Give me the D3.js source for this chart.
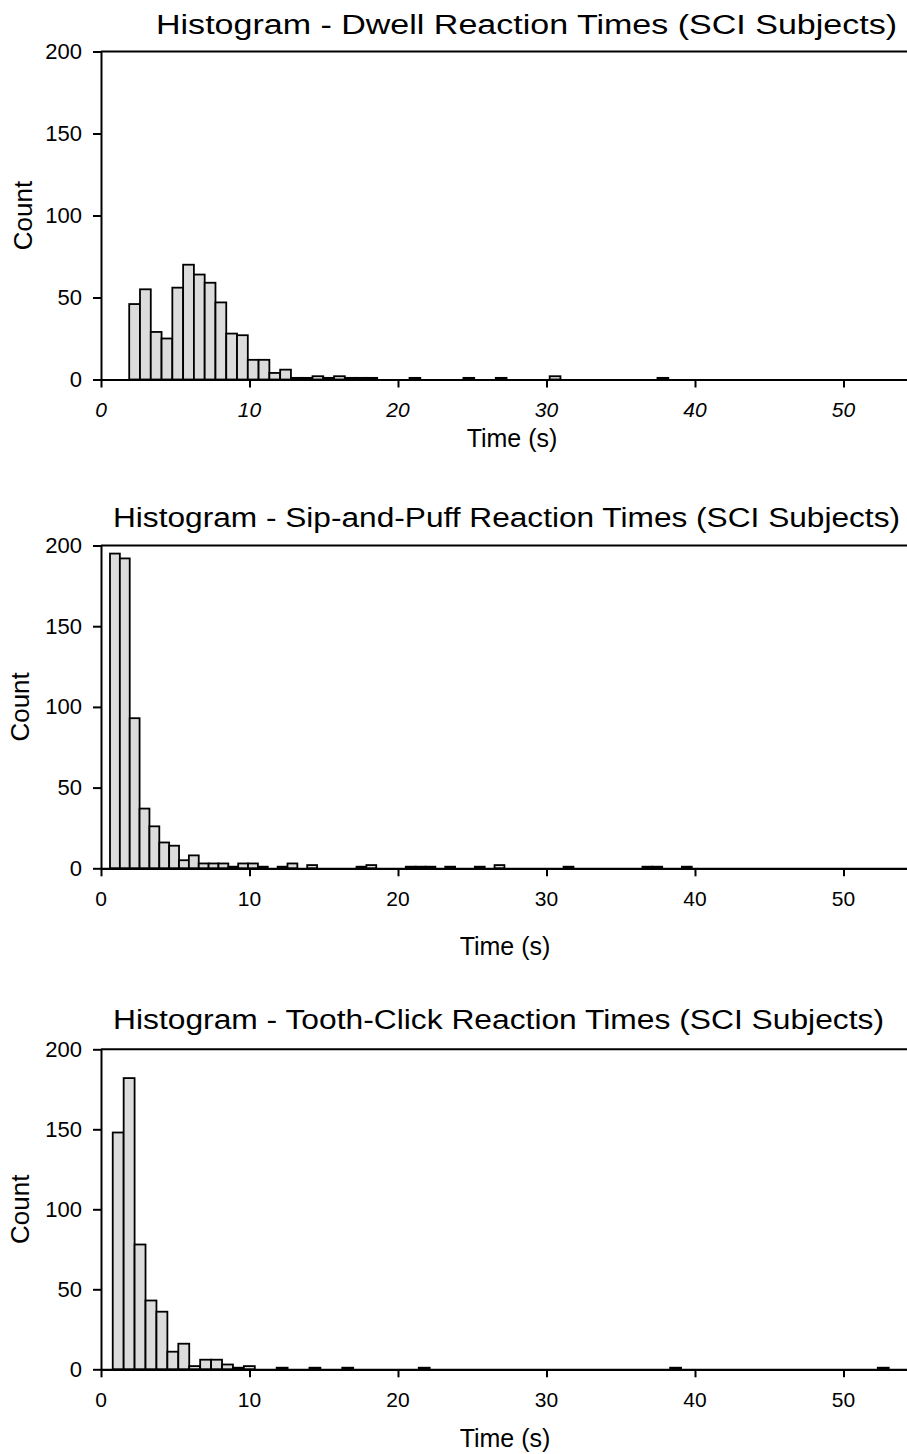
<!DOCTYPE html>
<html>
<head>
<meta charset="utf-8">
<script src="https://cdn.jsdelivr.net/npm/d3@7"></script>
<style>
  body { margin: 0; background: #fff; }
  svg { display: block; }
  text { font-family: "Liberation Sans", Arial, Helvetica, sans-serif; fill: #000; }
</style>
</head>
<body>
<div id="chart"></div>
<script>
// histogram counts per bin (empty bins kept as 0)
const dwellCounts = [46, 55, 29, 25, 56, 70, 64, 59, 47, 28, 27, 12, 12, 4, 6, 1, 1, 2, 1, 2, 1, 1, 1,
  0, 0, 0, 1, 0, 0, 0, 0, 1, 0, 0, 1, 0, 0, 0, 0, 2, 0, 0, 0, 0, 0, 0, 0, 0, 0, 1];
const sipPuffCounts = [195, 192, 93, 37, 26, 16, 14, 5, 8, 3, 3, 3, 1, 3, 3, 1, 0, 1, 3, 0, 2,
  0, 0, 0, 0, 1, 2, 0, 0, 0, 1, 1, 1, 0, 1, 0, 0, 1, 0, 2, 0, 0, 0, 0, 0, 0, 1,
  0, 0, 0, 0, 0, 0, 0, 1, 1, 0, 0, 1];
const toothClickCounts = [148, 182, 78, 43, 36, 11, 16, 2, 6, 6, 3, 1, 2, 0, 0, 1, 0, 0, 1, 0, 0, 1,
  0, 0, 0, 0, 0, 0, 1,
  0, 0, 0, 0, 0, 0, 0, 0, 0, 0, 0, 0, 0, 0, 0, 0, 0, 0, 0, 0, 0, 0, 1,
  0, 0, 0, 0, 0, 0, 0, 0, 0, 0, 0, 0, 0, 0, 0, 0, 0, 0, 1];

// first bin edge and bin width (seconds)
const dwellBins = { start: 1.9, width: 0.726 };
const sipPuffBins = { start: 0.606, width: 0.664 };
const toothClickBins = { start: 0.79, width: 0.736 };

const titles = [
  "Histogram - Dwell Reaction Times (SCI Subjects)",
  "Histogram - Sip-and-Puff Reaction Times (SCI Subjects)",
  "Histogram - Tooth-Click Reaction Times (SCI Subjects)"
];
const xTicks = [0, 10, 20, 30, 40, 50];
const yTicks = [0, 50, 100, 150, 200];
const xLabel = "Time (s)";
const yLabel = "Count";

const W = 907, H = 1454;

const panels = [
  { title: titles[0], counts: dwellCounts, bins: dwellBins, top: 51.5, bottom: 379.5,
    titleX: 156, titleW: 741, titleY: 34, italic: true, tickLabelY: 417, xLabelY: 447, xLabelX: 512, countX: 32 },
  { title: titles[1], counts: sipPuffCounts, bins: sipPuffBins, top: 545.5, bottom: 868.3,
    titleX: 113, titleW: 787, titleY: 527, italic: false, tickLabelY: 906, xLabelY: 955, xLabelX: 505, countX: 29 },
  { title: titles[2], counts: toothClickCounts, bins: toothClickBins, top: 1049.3, bottom: 1369.3,
    titleX: 113, titleW: 771, titleY: 1029, italic: false, tickLabelY: 1407, xLabelY: 1447, xLabelX: 505, countX: 29 }
];

const svg = d3.select("#chart").append("svg")
  .attr("width", W)
  .attr("height", H);

svg.append("rect").attr("width", W).attr("height", H).attr("fill", "#fff");

const left = 101;
const x = d3.scaleLinear().domain([0, 55]).range([left, left + 14.85 * 55]);

panels.forEach((p) => {
  const y = d3.scaleLinear().domain([0, 200]).range([p.bottom, p.top]);
  const g = svg.append("g");

  const bins = p.counts
    .map((c, i) => ({ x0: p.bins.start + i * p.bins.width, x1: p.bins.start + (i + 1) * p.bins.width, count: c }))
    .filter((d) => d.count > 0);

  g.selectAll("rect.bar")
    .data(bins)
    .enter()
    .append("rect")
    .attr("class", "bar")
    .attr("x", (d) => x(d.x0))
    .attr("width", (d) => x(d.x1) - x(d.x0))
    .attr("y", (d) => y(d.count))
    .attr("height", (d) => y(0) - y(d.count))
    .attr("fill", "#dcdcdc")
    .attr("stroke", "#000")
    .attr("stroke-width", 1.8);

  // top frame line
  g.append("line")
    .attr("x1", x(0)).attr("x2", W)
    .attr("y1", y(200)).attr("y2", y(200))
    .attr("stroke", "#000").attr("stroke-width", 2);

  const xAxis = g.append("g")
    .attr("transform", `translate(0,${y(0)})`)
    .call(d3.axisBottom(x).tickValues(xTicks).tickSize(8).tickSizeOuter(0).tickFormat(""));
  xAxis.select(".domain").attr("stroke-width", 2.2);
  xAxis.selectAll(".tick line").attr("stroke-width", 2);

  g.selectAll("text.xtick")
    .data(xTicks)
    .enter()
    .append("text")
    .attr("class", "xtick")
    .attr("x", (d) => x(d))
    .attr("y", p.tickLabelY)
    .attr("text-anchor", "middle")
    .attr("font-size", 21)
    .attr("font-style", p.italic ? "italic" : "normal")
    .text((d) => d);

  const yAxis = g.append("g")
    .attr("transform", `translate(${x(0)},0)`)
    .call(d3.axisLeft(y).tickValues(yTicks).tickSize(8).tickSizeOuter(0).tickPadding(11));
  yAxis.select(".domain").attr("stroke-width", 2);
  yAxis.selectAll(".tick line").attr("stroke-width", 2);
  yAxis.selectAll(".tick text")
    .attr("font-size", 22)
    .attr("font-family", "Liberation Sans, Arial, sans-serif");

  g.append("text")
    .attr("x", p.titleX)
    .attr("y", p.titleY)
    .attr("font-size", 27)
    .attr("textLength", p.titleW)
    .attr("lengthAdjust", "spacingAndGlyphs")
    .text(p.title);

  g.append("text")
    .attr("x", p.xLabelX)
    .attr("y", p.xLabelY)
    .attr("text-anchor", "middle")
    .attr("font-size", 25)
    .text(xLabel);

  g.append("text")
    .attr("transform", `translate(${p.countX},${(p.top + p.bottom) / 2}) rotate(-90)`)
    .attr("text-anchor", "middle")
    .attr("font-size", 26)
    .text(yLabel);
});
</script>
</body>
</html>
